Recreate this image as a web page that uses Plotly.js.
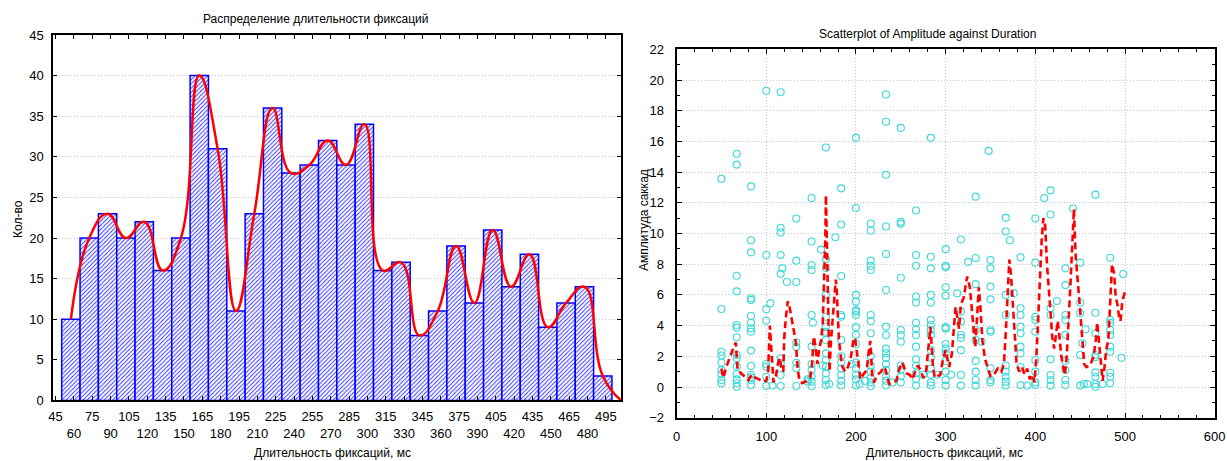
<!DOCTYPE html>
<html>
<head>
<meta charset="utf-8">
<script src="https://cdn.plot.ly/plotly-3.0.1.min.js"></script>
<style>
  html, body { margin: 0; padding: 0; background: #fff; }
  #chart { width: 1227px; height: 461px; }
</style>
</head>
<body>
<div id="chart"></div>
<script>
// ---------- Histogram data ----------
const binEdges = [50,65,80,95,110,125,140,155,170,185,200,215,230,245,260,275,290,305,320,335,350,365,380,395,410,425,440,455,470,485,500];
const binCounts = [10,20,23,20,22,16,20,40,31,11,23,36,28,29,32,29,34,16,17,8,11,19,12,21,14,18,9,12,14,3];
const histTickValues = [45,60,75,90,105,120,135,150,165,180,195,210,225,240,255,270,285,300,315,330,345,360,375,390,405,420,435,450,465,480,495];
const curveTailX = [507.5];
const curveTailY = [0];

// ---------- Scatter data (duration columns and amplitudes) ----------
const durationCols = [50,67,83,100,104.5,107,116,118,123,133.5,146,150.5,152,161,163,166.5,170,177,183.5,195,200,204,210,216.5,233.5,241,250,267,275,283.5,291,300,306,313,317,325,333.5,340,348,350,367,371.6,376,383.5,391,400,410,417,424,433.5,442,450,452.5,454,456,458,467,475,483.5,496,498];
const amplitudeCols = [
  [13.57,5.08,2.3,2.05,1.6,1.1,0.83,0.45,0.25],
  [15.2,14.49,7.25,6.23,4.04,3.87,3.24,2.09,1.87,1.33,0.83,0.5,0.24,0.02],
  [13.07,9.56,8.77,5.78,5.67,4.63,4.19,3.82,3.6,2.37,1.37,0.8,0.63,0.46,0.13],
  [19.3,8.6,5.06,4.32,1.5,1.33,0.67,0.07],
  [5.45],
  [0.1],
  [19.2,10.37,10.07,8.6,7.38,1.87,1.55,0.78,0.07],
  [7.73],
  [6.84],
  [10.98,8.23,6.84,2.9,2.6,1.58,1.22,0.07],
  [0.5,0.35],
  [12.31,9.48,7.95,7.62,4.69,2.63,1.5,1.11,0.67,0.35,0.07],
  [4.19],
  [8.95],
  [1.4],
  [15.6,8.35,7.75,6.0,4.58,3.93,3.6,3.5,3.06,2.19,1.76,1.33,0.89,0.46,0.13],
  [0.2],
  [9.76],
  [12.94,10.59,7.23,4.69,4.58,3.06,2.0,1.6,1.2,0.8,0.4,0.1],
  [1.5],
  [16.23,11.66,6.0,5.56,5.02,4.91,4.69,3.9,3.4,2.8,1.6,1.2,0.8,0.5,0.1],
  [0.2],
  [0.4],
  [10.65,10.2,8.23,7.9,7.62,4.69,4.3,3.5,2.0,1.4,1.0,0.6,0.3,0.05],
  [19.06,17.28,13.83,10.46,8.66,6.32,3.93,3.39,2.5,2.2,1.9,1.5,1.1,0.7,0.4,0.1],
  [0.3],
  [16.88,10.76,10.63,7.12,3.71,3.39,2.95,1.4,1.1,0.7,0.3],
  [11.5,8.6,7.9,5.9,5.5,4.19,3.76,3.39,2.63,1.8,1.4,0.9,0.5,0.1],
  [0.8],
  [16.23,8.49,7.73,6.0,5.5,4.36,4.04,3.71,3.39,2.4,1.9,1.2,0.8,0.3,0.1],
  [0.8],
  [8.98,7.9,7.8,6.5,5.95,3.9,3.8,2.8,2.5,2.2,1.7,1.0,0.46,0.09],
  [0.8],
  [6.1],
  [9.61,4.91,4.26,3.4,3.2,2.4,0.78,0.09],
  [8.15],
  [12.4,8.4,6.7,3.71,3.06,1.7,1.0,0.46,0.09],
  [2.95],
  [15.38],
  [8.27,7.73,6.54,5.71,3.7,3.6,1.22,0.46,0.3],
  [11.02,10.13,6.0,4.69,1.4,1.0,0.67,0.35,0.1],
  [9.56],
  [6.1],
  [8.45,5.13,4.69,3.93,3.5,2.63,2.19,1.3,0.13],
  [0.1],
  [10.98,8.1,4.58,4.36,3.6,1.76,1.0,0.3,0.13],
  [12.31],
  [12.81,11.24,5.13,4.69,1.8,0.78,0.46,0.09],
  [5.6],
  [7.73,6.64,4.69,4.36,3.4,1.7,1.11,0.46,0.13],
  [11.63],
  [8.1,5.49,4.8,2.08,0.09],
  [2.85],
  [0.2],
  [3.76],
  [0.2],
  [12.53,4.84,3.5,2.08,1.93,0.95,0.67,0.2,0.02],
  [0.2],
  [8.42,4.36,4.19,3.71,3.39,2.63,2.3,0.93,0.67,0.24],
  [1.91],
  [7.36]
];

// ---------- Red dashed trace ----------
const trendDuration = [50,52,56,60,63,66,67,68,72,76,80,84,88,92,96,100,102,104,105,106,107,108,111,113,115,117,119,120,122,124,126,128,131,133,134,135,137,140,145,149,151,153,155,157,159,161,163,164,165,165.8,166.5,167.5,168.5,169.5,170.5,172,174,176,177.5,178.5,180,181,183,185,188,191,194,197,199,201,203,205,208,212,214,216,217,218,220,224,228,231,233,235,237,241,245,248,251,253,256,260,263,266,269,272,275,278,281,283,284.5,286,288,291,294,297,300,302,304,307,309,311,313,315,317,320,324,327,329,331,333,335,337,339,341,344,347,350,354,358,362,365,367,369,371,373,375,377,379,382,385,388,391,394,397,399,401,403,405,407,409,411,413,415,417,419,421,423,425,427,429,431,433,435,437,439,441,443,445,447,449,451,453,454.5,457,461,465,467.5,469,472,474,475,477,479,481.5,483.4,484.2,485.5,487.8,489.6,491.5,493.5,495,497,500];
const trendAmplitude = [1.2,0.6,1.4,2.1,2.5,2.9,2.0,1.1,0.9,0.7,0.45,0.8,0.6,0.5,0.35,0.4,1.0,4.0,3.0,2.0,1.1,0.3,0.8,1.5,1.9,1.2,1.0,3.2,4.6,5.6,5.2,4.6,3.7,2.9,2.0,1.2,0.4,0.25,0.4,0.6,1.5,3.3,2.6,1.5,2.5,3.0,4.2,5.7,7.5,9.6,12.5,9.0,6.0,3.0,1.0,2.9,4.2,5.7,7.0,6.3,4.8,3.1,2.0,1.3,1.0,1.3,1.8,3.0,3.2,2.3,1.2,0.5,0.8,1.1,2.2,3.0,2.0,0.8,0.3,0.8,1.0,1.3,1.1,0.7,0.2,0.3,0.4,1.1,1.6,1.4,0.9,0.8,0.5,1.0,1.4,1.1,0.6,0.9,2.8,3.9,2.6,1.2,0.6,0.7,0.8,1.8,2.4,1.8,1.3,2.2,3.6,5.2,4.5,3.8,5.4,5.8,7.2,6.5,5.2,3.8,2.6,4.5,6.5,5.0,3.0,1.8,1.2,0.7,0.8,1.2,1.0,1.5,3.5,6.0,8.3,7.2,5.5,3.5,1.6,1.0,1.3,0.8,1.2,0.5,0.8,0.3,1.8,4.2,7.0,9.5,11.0,10.5,8.0,6.2,4.5,3.2,2.5,3.5,4.3,3.2,2.0,1.3,0.8,2.0,4.0,6.5,9.0,11.6,8.5,6.8,5.7,4.2,2.9,1.5,1.3,1.4,2.0,3.1,4.2,2.4,1.0,0.4,1.2,2.4,3.1,5.2,7.0,8.0,7.4,5.9,5.4,4.5,4.3,5.6,6.2];

// ---------- Build traces ----------
const binCenters = binCounts.map((_, i) => (binEdges[i] + binEdges[i + 1]) / 2);
const binWidths = binCounts.map((_, i) => binEdges[i + 1] - binEdges[i]);
const histTickText = histTickValues.map((v, i) => (i % 2 === 0 ? String(v) : ' <br>' + v));

const durations = [];
const amplitudes = [];
durationCols.forEach((d, i) => {
  amplitudeCols[i].forEach(a => { durations.push(d); amplitudes.push(a); });
});

const FONT = 'Liberation Sans, Arial, Helvetica, sans-serif';

const traces = [
  {
    type: 'bar', x: binCenters, y: binCounts, width: binWidths,
    xaxis: 'x', yaxis: 'y',
    marker: {
      color: '#ffffff',
      line: { color: '#0000ff', width: 1.5 },
      pattern: { shape: '/', fgcolor: '#2a2aff', bgcolor: '#ffffff', size: 3, solidity: 0.3 }
    },
    hoverinfo: 'skip'
  },
  {
    type: 'scatter', mode: 'lines',
    x: binCenters.concat(curveTailX), y: binCounts.concat(curveTailY),
    xaxis: 'x', yaxis: 'y',
    line: { color: '#ff0000', width: 2.5, shape: 'spline', smoothing: 1.3 },
    hoverinfo: 'skip'
  },
  {
    type: 'scatter', mode: 'markers', x: durations, y: amplitudes,
    xaxis: 'x2', yaxis: 'y2',
    marker: { symbol: 'circle-open', size: 7, color: '#3ad8d8', line: { width: 1.1, color: '#3ad8d8' } },
    hoverinfo: 'skip'
  },
  {
    type: 'scatter', mode: 'lines', x: trendDuration, y: trendAmplitude,
    xaxis: 'x2', yaxis: 'y2',
    line: { color: '#ff0000', width: 2.6, dash: '7px,4px' },
    hoverinfo: 'skip'
  }
];

const W = 1227, H = 461;
const px = v => v / W;
const py = v => 1 - v / H;

const tickFont = { family: FONT, size: 13, color: '#000' };
const titleFont = { family: FONT, size: 12, color: '#000' };
const GRID = '#c8c8c8';
const GRIDDASH = '1px,2px';

const layout = {
  width: W, height: H,
  margin: { l: 0, r: 0, t: 0, b: 0, pad: 0 },
  paper_bgcolor: '#ffffff', plot_bgcolor: '#ffffff',
  showlegend: false,
  bargap: 0,
  xaxis: {
    domain: [px(53.4), px(621)], range: [43.2, 507.4],
    tickmode: 'array', tickvals: histTickValues, ticktext: histTickText, tickangle: 0,
    ticks: 'inside', ticklen: 4, tickwidth: 1, tickcolor: '#000',
    showline: true, linecolor: '#000', linewidth: 2, mirror: 'ticks',
    showgrid: false, zeroline: false, tickfont: tickFont, ticklabelstandoff: 3,
    anchor: 'y', fixedrange: true
  },
  yaxis: {
    domain: [py(400.4), py(35)], range: [0, 45],
    tickmode: 'linear', tick0: 0, dtick: 5,
    ticks: 'inside', ticklen: 4, tickwidth: 1, tickcolor: '#000',
    showline: true, linecolor: '#000', linewidth: 2, mirror: 'ticks',
    showgrid: true, gridcolor: GRID, griddash: GRIDDASH, gridwidth: 1,
    zeroline: false, tickfont: tickFont, ticklabelstandoff: 5,
    anchor: 'x', fixedrange: true
  },
  xaxis2: {
    domain: [px(676.6), px(1214.7)], range: [0, 600],
    tickmode: 'linear', tick0: 0, dtick: 100, tickangle: 0,
    ticks: 'inside', ticklen: 5, tickwidth: 1, tickcolor: '#000',
    minor: { ticks: 'inside', ticklen: 3, dtick: 20, tickcolor: '#000', showgrid: false },
    showline: true, linecolor: '#000', linewidth: 2, mirror: 'ticks',
    showgrid: true, gridcolor: GRID, griddash: GRIDDASH, gridwidth: 1,
    zeroline: false, tickfont: tickFont, ticklabelstandoff: 6,
    anchor: 'y2', fixedrange: true
  },
  yaxis2: {
    domain: [py(417.7), py(49.3)], range: [-2, 22],
    tickmode: 'linear', tick0: 0, dtick: 2,
    ticks: 'inside', ticklen: 5, tickwidth: 1, tickcolor: '#000',
    minor: { ticks: 'inside', ticklen: 3, dtick: 1, tickcolor: '#000', showgrid: false },
    showline: true, linecolor: '#000', linewidth: 2, mirror: 'ticks',
    showgrid: true, gridcolor: GRID, griddash: GRIDDASH, gridwidth: 1,
    zeroline: false, tickfont: tickFont, ticklabelstandoff: 8,
    anchor: 'x2', fixedrange: true
  },
  annotations: [
    { text: 'Распределение длительности фиксаций', x: px(316), y: py(19), xref: 'paper', yref: 'paper', xanchor: 'center', yanchor: 'middle', showarrow: false, font: titleFont },
    { text: 'Длительность фиксаций, мс', x: px(333), y: py(453), xref: 'paper', yref: 'paper', xanchor: 'center', yanchor: 'middle', showarrow: false, font: titleFont },
    { text: 'Кол-во', x: px(18), y: py(219), xref: 'paper', yref: 'paper', xanchor: 'center', yanchor: 'middle', showarrow: false, textangle: -90, font: titleFont },
    { text: 'Scatterplot of Amplitude against Duration', x: px(927), y: py(34), xref: 'paper', yref: 'paper', xanchor: 'center', yanchor: 'middle', showarrow: false, font: titleFont },
    { text: 'Длительность фиксаций, мс', x: px(944), y: py(453), xref: 'paper', yref: 'paper', xanchor: 'center', yanchor: 'middle', showarrow: false, font: titleFont },
    { text: 'Амплитуда саккад', x: px(644), y: py(220), xref: 'paper', yref: 'paper', xanchor: 'center', yanchor: 'middle', showarrow: false, textangle: -90, font: titleFont }
  ]
};

Plotly.newPlot('chart', traces, layout, { staticPlot: true, displayModeBar: false });
</script>
</body>
</html>
